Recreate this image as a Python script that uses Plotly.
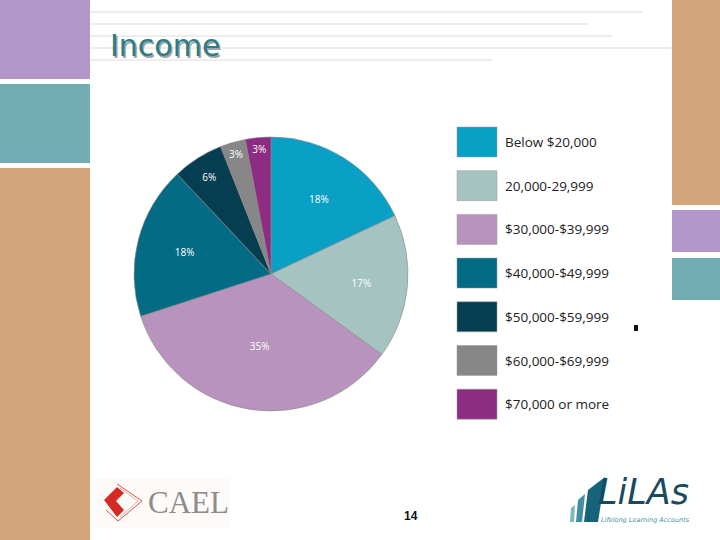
import plotly.graph_objects as go

# ---- data ----
categories = ["Below $20,000", "20,000-29,999", "$30,000-$39,999", "$40,000-$49,999",
              "$50,000-$59,999", "$60,000-$69,999", "$70,000 or more"]
shares = [18, 17, 35, 18, 6, 3, 3]
colors = ["#0aa0c5", "#a4c3c1", "#b793bd", "#036b84", "#053d51", "#878787", "#8e2b82"]
title_text = "Income"
page_number = "14"

W, H = 720, 540


def px(x):
    return x / W


def py(y):
    return 1 - y / H


fig = go.Figure()

fig.add_trace(go.Pie(
    labels=categories,
    values=shares,
    text=[f"{v}%" for v in shares],
    textinfo="text",
    textposition="inside",
    insidetextorientation="horizontal",
    sort=False,
    direction="clockwise",
    rotation=0,
    marker=dict(colors=colors, line=dict(color="#8a8a8a", width=0.6)),
    textfont=dict(color="white", size=10, family="Open Sans"),
    domain=dict(x=[px(133), px(409)], y=[py(411), py(137)]),
    showlegend=False,
    hoverinfo="label+percent",
))

shapes = []
annotations = []


def rect(x0, y0, x1, y1, color, line=None):
    shapes.append(dict(type="rect", xref="paper", yref="paper",
                       x0=px(x0), x1=px(x1), y0=py(y1), y1=py(y0),
                       fillcolor=color, line=dict(width=0) if line is None else line,
                       layer="below"))


# slide decoration
PURPLE, TEAL, TAN = "#b196c7", "#73adb4", "#d4a47b"
rect(0, 0, 90, 79, PURPLE)
rect(0, 84, 90, 163, TEAL)
rect(0, 168, 90, 540, TAN)
rect(672, 0, 720, 205, TAN)
rect(672, 210, 720, 252, PURPLE)
rect(672, 258, 720, 300, TEAL)

for yy, xend in [(12, 643), (24, 588), (36, 612), (48, 672), (60, 492)]:
    shapes.append(dict(type="line", xref="paper", yref="paper",
                       x0=px(90), x1=px(xend), y0=py(yy), y1=py(yy),
                       line=dict(color="#dcdcdc", width=1), layer="below"))

# title
annotations.append(dict(text=title_text, x=px(108), y=py(46), xref="paper", yref="paper",
                        xanchor="left", yanchor="middle", showarrow=False,
                        font=dict(family="DejaVu Sans", size=30, color="#2e7d80",
                                  shadow="1.5px 1.5px 0px #9aa4ac")))

# legend boxes
for i, (cat, col) in enumerate(zip(categories, colors)):
    cy = 142 + i * 43.7
    rect(457, cy - 15, 497, cy + 15, col, line=dict(color="#9a9a9a", width=0.5))
    annotations.append(dict(text=cat, x=px(503), y=py(cy), xref="paper", yref="paper",
                            xanchor="left", yanchor="middle", showarrow=False,
                            font=dict(family="Open Sans", size=13.5, color="#222222")))

# small artifact square
rect(634, 325, 638, 331, "#111111")

# CAEL logo
rect(95, 478, 230, 528, "#fdfaf7")
shapes.append(dict(type="path", xref="paper", yref="paper",
                   path=f"M {px(104)} {py(500)} L {px(117)} {py(487)} L {px(124)} {py(493)} "
                        f"L {px(116)} {py(501)} L {px(124)} {py(510)} L {px(117)} {py(517)} Z",
                   fillcolor="#d42a22", line=dict(width=0)))
shapes.append(dict(type="path", xref="paper", yref="paper",
                   path=f"M {px(117)} {py(484)} L {px(142)} {py(501)} L {px(118)} {py(521)} "
                        f"L {px(106)} {py(510)}",
                   fillcolor="rgba(0,0,0,0)", line=dict(color="#d42a22", width=0.8)))
shapes.append(dict(type="path", xref="paper", yref="paper",
                   path=f"M {px(120)} {py(488)} L {px(138)} {py(501)} L {px(120)} {py(517)}",
                   fillcolor="rgba(0,0,0,0)", line=dict(color="#e07a70", width=0.6)))
annotations.append(dict(text="CAEL", x=px(146), y=py(502), xref="paper", yref="paper",
                        xanchor="left", yanchor="middle", showarrow=False,
                        font=dict(family="Liberation Serif", size=31, color="#8c8c8c")))

# page number
annotations.append(dict(text=f"<b>{page_number}</b>", x=px(411), y=py(516), xref="paper", yref="paper",
                        xanchor="center", yanchor="middle", showarrow=False,
                        font=dict(family="Liberation Sans", size=12, color="#111111")))

# LiLAs logo
shapes.append(dict(type="path", xref="paper", yref="paper",
                   path=f"M {px(584)} {py(522)} L {px(588)} {py(490)} L {px(605)} {py(477)} "
                        f"L {px(598)} {py(522)} Z",
                   fillcolor="#16637a", line=dict(width=0)))
shapes.append(dict(type="path", xref="paper", yref="paper",
                   path=f"M {px(576)} {py(522)} L {px(578)} {py(500)} L {px(585)} {py(494)} "
                        f"L {px(582)} {py(522)} Z",
                   fillcolor="#3f8fa0", line=dict(width=0)))
shapes.append(dict(type="path", xref="paper", yref="paper",
                   path=f"M {px(570)} {py(522)} L {px(571)} {py(508)} L {px(575)} {py(505)} "
                        f"L {px(574)} {py(522)} Z",
                   fillcolor="#7fb6c0", line=dict(width=0)))
annotations.append(dict(text="<i>LiLAs</i>", x=px(596), y=py(514), xref="paper", yref="paper",
                        xanchor="left", yanchor="bottom", showarrow=False,
                        font=dict(family="DejaVu Sans", size=35, color="#174a5e")))
annotations.append(dict(text="<i>Lifelong Learning Accounts</i>", x=px(599), y=py(514), xref="paper",
                        yref="paper", xanchor="left", yanchor="top", showarrow=False,
                        font=dict(family="DejaVu Sans", size=6.5, color="#3f8fa0")))

fig.update_layout(
    width=W, height=H,
    margin=dict(l=0, r=0, t=0, b=0),
    paper_bgcolor="white", plot_bgcolor="white",
    shapes=shapes, annotations=annotations,
    uniformtext=dict(minsize=10, mode="show"),
    xaxis=dict(visible=False), yaxis=dict(visible=False),
)

fig.write_html("out.html", config={"displayModeBar": False},
               post_script="document.body.style.margin='0';")
